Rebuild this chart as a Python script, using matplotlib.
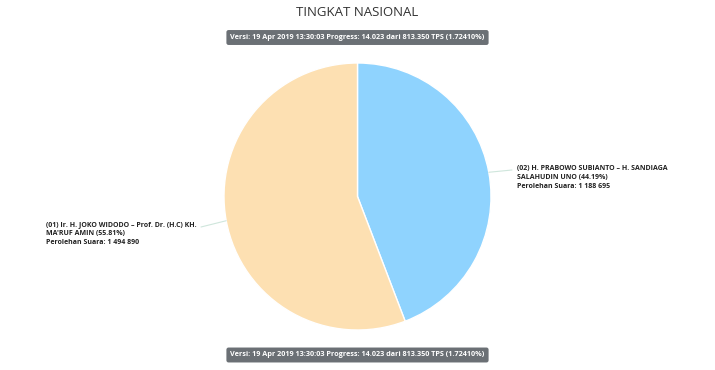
import numpy as np
import matplotlib.pyplot as plt

# data
candidates = ["(02) H. PRABOWO SUBIANTO \u2013 H. SANDIAGA\nSALAHUDIN UNO",
              "(01) Ir. H. JOKO WIDODO \u2013 Prof. Dr. (H.C) KH.\nMA'RUF AMIN"]
shares = [44.19, 55.81]
votes = ["1 188 695", "1 494 890"]
colors = ["#8fd3fe", "#fde0b2"]
title = "TINGKAT NASIONAL"
badge = "Versi: 19 Apr 2019 13:30:03 Progress: 14.023 dari 813.350 TPS (1.72410%)"

plt.rcParams['font.family'] = ['Open Sans', 'DejaVu Sans']

W, H = 715, 370
fig = plt.figure(figsize=(W / 100, H / 100), dpi=100)

cx, cy, r = 357.5, 196.5, 133.5
ax = fig.add_axes([(cx - r) / W, (H - cy - r) / H, 2 * r / W, 2 * r / H])
wedges, _ = ax.pie(shares, colors=colors, startangle=90, counterclock=False,
                   radius=1, wedgeprops=dict(edgecolor="white", linewidth=1))
ax.set_xlim(-1, 1)
ax.set_ylim(-1, 1)
ax.axis("off")

# labels with connector lines (pixel positions of the line end / text corner)
line_end = [(512, 170), (201, 227)]
text_corner = [(517, 165), (46, 221)]
for w, name, share, vote, (lx, ly), (tx, ty) in zip(wedges, candidates, shares, votes,
                                                    line_end, text_corner):
    ang = np.deg2rad((w.theta1 + w.theta2) / 2)
    x, y = np.cos(ang), np.sin(ang)
    ax.annotate("", xy=(x, y), xytext=((lx - cx) / r, (cy - ly) / r),
                annotation_clip=False,
                arrowprops=dict(arrowstyle="-", color="#cfe6dc", lw=0.8,
                                shrinkA=0, shrinkB=0))
    txt = f"{name} ({share:.2f}%)\nPerolehan Suara: {vote}"
    fig.text(tx / W, 1 - ty / H, txt, ha="left", va="top", fontsize=5,
             fontweight="bold", color="#222222", linespacing=1.42)

fig.text(0.5, 1 - 12 / H, title, ha="center", va="center", fontsize=9.5, color="#333333")

for yb in (37.5, 355):
    fig.text(0.5, 1 - yb / H, badge, ha="center", va="center", fontsize=5.2,
             fontweight="bold", color="white",
             bbox=dict(boxstyle="round,pad=0.55,rounding_size=0.3",
                       fc="#6b7075", ec="none"))

fig.savefig("out.png", dpi=100)
